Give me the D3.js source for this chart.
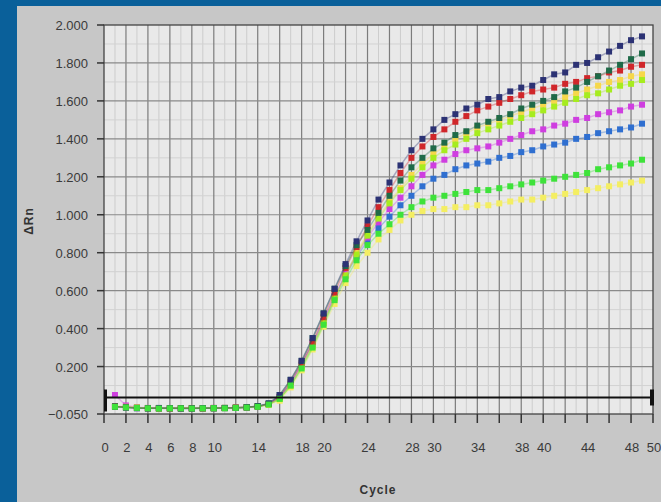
<!DOCTYPE html>
<html lang="en">
<head>
    <meta charset="UTF-8">
    <title>Amplification plot</title>
    <script src="https://d3js.org/d3.v7.min.js"></script>
    <style>
        body { margin: 0; background: #0a609a; }
        svg { display: block; }
        .tick-label { font-family: "Liberation Sans", Arial, sans-serif; font-size: 13px; fill: #3a3a3a; }
        .axis-title { font-family: "Liberation Sans", Arial, sans-serif; font-size: 12px; font-weight: bold; fill: #333; letter-spacing: 1px; }
    </style>
</head>
<body>
<svg id="chart" width="661" height="502"></svg>
<script>
    // cycles 1..49
    const cycles = d3.range(1, 50);
    const xTickLabels = [0, 2, 4, 6, 8, 10, 14, 18, 20, 24, 28, 30, 34, 38, 40, 44, 48, 50];
    const yTickLabels = [2.0, 1.8, 1.6, 1.4, 1.2, 1.0, 0.8, 0.6, 0.4, 0.2, -0.05];
    const threshold = 0.037;

    const navy = [
        -0.01, -0.015, -0.02, -0.02, -0.018, -0.02, -0.021, -0.02, -0.019, -0.02, -0.018, -0.017, -0.015, -0.01, 0.005,
        0.05, 0.13, 0.23, 0.35, 0.48, 0.61, 0.74, 0.86,
        0.97, 1.08, 1.17, 1.26, 1.34, 1.40, 1.45, 1.50, 1.53, 1.56, 1.58,
        1.61, 1.62, 1.65, 1.67, 1.68, 1.71, 1.74, 1.75, 1.79, 1.80, 1.83, 1.86, 1.89, 1.92, 1.94];
    const darkGreen = [
        -0.012, -0.016, -0.018, -0.02, -0.02, -0.019, -0.02, -0.021, -0.02, -0.019, -0.018, -0.018, -0.014, -0.008, 0.006,
        0.05, 0.13, 0.23, 0.35, 0.48, 0.61, 0.73, 0.84,
        0.92, 1.01, 1.10, 1.18, 1.25, 1.30, 1.35, 1.38, 1.42, 1.44, 1.47,
        1.49, 1.51, 1.53, 1.56, 1.58, 1.60, 1.62, 1.65, 1.67, 1.70, 1.73, 1.76, 1.79, 1.82, 1.85];
    const red = [
        -0.01, -0.014, -0.018, -0.02, -0.02, -0.02, -0.019, -0.02, -0.02, -0.018, -0.019, -0.017, -0.015, -0.01, 0.003,
        0.04, 0.12, 0.22, 0.33, 0.46, 0.59, 0.72, 0.83,
        0.94, 1.04, 1.13, 1.22, 1.30, 1.36, 1.41, 1.45, 1.49, 1.52, 1.55,
        1.57, 1.59, 1.61, 1.63, 1.65, 1.66, 1.67, 1.69, 1.70, 1.72, 1.73, 1.75, 1.76, 1.78, 1.79];
    const gold = [
        -0.008, -0.012, -0.016, -0.018, -0.02, -0.02, -0.02, -0.018, -0.02, -0.019, -0.018, -0.016, -0.014, -0.01, 0.0,
        0.03, 0.10, 0.20, 0.31, 0.43, 0.56, 0.68, 0.80,
        0.90, 0.99, 1.07, 1.14, 1.21, 1.27, 1.32, 1.36, 1.40, 1.43, 1.46,
        1.48, 1.50, 1.52, 1.54, 1.56, 1.58, 1.60, 1.62, 1.64, 1.66, 1.68, 1.70, 1.71, 1.73, 1.74];
    const lime = [
        -0.01, -0.013, -0.017, -0.019, -0.02, -0.021, -0.02, -0.02, -0.019, -0.02, -0.018, -0.017, -0.015, -0.011, 0.0,
        0.03, 0.10, 0.20, 0.31, 0.43, 0.56, 0.68, 0.79,
        0.89, 0.98, 1.06, 1.13, 1.19, 1.25, 1.30, 1.34, 1.37, 1.40, 1.43,
        1.45, 1.47, 1.49, 1.51, 1.53, 1.55, 1.57, 1.59, 1.61, 1.63, 1.64, 1.66, 1.68, 1.69, 1.71];
    const magenta = [
        0.05, -0.005, -0.015, -0.018, -0.02, -0.02, -0.019, -0.02, -0.02, -0.018, -0.018, -0.016, -0.014, -0.01, 0.002,
        0.04, 0.11, 0.21, 0.32, 0.44, 0.57, 0.69, 0.79,
        0.88, 0.96, 1.03, 1.09, 1.15, 1.21, 1.26, 1.29, 1.32, 1.34, 1.35,
        1.36, 1.38, 1.40, 1.42, 1.44, 1.45, 1.47, 1.48, 1.50, 1.51, 1.53, 1.54, 1.55, 1.57, 1.58];
    const blue = [
        -0.01, -0.014, -0.017, -0.02, -0.02, -0.02, -0.021, -0.02, -0.019, -0.02, -0.019, -0.017, -0.015, -0.01, 0.003,
        0.04, 0.11, 0.21, 0.32, 0.44, 0.57, 0.68, 0.78,
        0.86, 0.93, 0.99, 1.05, 1.10, 1.15, 1.19, 1.21, 1.24, 1.26, 1.27,
        1.28, 1.30, 1.31, 1.33, 1.34, 1.36, 1.37, 1.38, 1.40, 1.41, 1.43, 1.44, 1.45, 1.46, 1.48];
    const green = [
        -0.012, -0.015, -0.018, -0.02, -0.021, -0.02, -0.02, -0.021, -0.02, -0.019, -0.02, -0.018, -0.016, -0.012, 0.0,
        0.03, 0.10, 0.19, 0.30, 0.42, 0.55, 0.66, 0.76,
        0.84, 0.90, 0.95, 1.00, 1.04, 1.07, 1.09, 1.10, 1.11, 1.12, 1.13,
        1.13, 1.14, 1.15, 1.16, 1.17, 1.18, 1.19, 1.20, 1.21, 1.22, 1.24, 1.25, 1.26, 1.27, 1.29];
    const yellow = [
        -0.01, -0.014, -0.017, -0.019, -0.02, -0.02, -0.02, -0.019, -0.02, -0.02, -0.018, -0.017, -0.015, -0.011, -0.002,
        0.02, 0.09, 0.18, 0.29, 0.41, 0.53, 0.64, 0.73,
        0.80, 0.87, 0.92, 0.97, 1.00, 1.02, 1.03, 1.03, 1.04, 1.04, 1.05,
        1.05, 1.06, 1.07, 1.08, 1.08, 1.09, 1.10, 1.11, 1.12, 1.13, 1.14, 1.15, 1.16, 1.17, 1.18];

    // drawing order: first is underneath
    const series = [
        { name: "yellow", values: yellow, color: "#f4ee62" },
        { name: "blue", values: blue, color: "#2f6fd0" },
        { name: "magenta", values: magenta, color: "#cf3ee0" },
        { name: "gold", values: gold, color: "#f6d84a" },
        { name: "lime", values: lime, color: "#a6ec1e" },
        { name: "red", values: red, color: "#d0262a" },
        { name: "darkGreen", values: darkGreen, color: "#1f6a48" },
        { name: "navy", values: navy, color: "#2c3274" },
        { name: "green", values: green, color: "#3ee23a" }
    ];

    const svg = d3.select("#chart");
    const W = +svg.attr("width"), H = +svg.attr("height");

    // blue frame + grey panel
    svg.append("rect").attr("width", W).attr("height", H).attr("fill", "#0a609a");
    svg.append("rect").attr("x", 17).attr("y", 6).attr("width", W - 17).attr("height", H - 6).attr("fill", "#c7c7c7");

    const x = d3.scaleLinear().domain([0, 50]).range([104, 653]);
    const y = d3.scaleLinear().domain([-0.05, 2.0]).range([414, 25]);

    const plot = svg.append("g");
    plot.append("rect")
        .attr("x", x(0)).attr("y", y(2.0))
        .attr("width", x(50) - x(0)).attr("height", y(-0.05) - y(2.0))
        .attr("fill", "#e9e9e9");

    // minor grid
    plot.selectAll(".vminor").data(d3.range(1, 50, 2)).enter().append("line")
        .attr("x1", d => x(d)).attr("x2", d => x(d))
        .attr("y1", y(2.0)).attr("y2", y(-0.05))
        .attr("stroke", "#cdcdcd").attr("stroke-width", 1);
    plot.selectAll(".hminor").data(d3.range(0.1, 2.0, 0.2)).enter().append("line")
        .attr("x1", x(0)).attr("x2", x(50))
        .attr("y1", d => y(d)).attr("y2", d => y(d))
        .attr("stroke", "#d2d2d2").attr("stroke-width", 1);

    // major grid
    plot.selectAll(".vmajor").data(d3.range(2, 50, 2)).enter().append("line")
        .attr("x1", d => x(d)).attr("x2", d => x(d))
        .attr("y1", y(2.0)).attr("y2", y(-0.05))
        .attr("stroke", "#7c7c7c").attr("stroke-width", 1.2);
    plot.selectAll(".hmajor").data(yTickLabels.filter(v => v > 0 && v < 2)).enter().append("line")
        .attr("x1", x(0)).attr("x2", x(50))
        .attr("y1", d => y(d)).attr("y2", d => y(d))
        .attr("stroke", "#8a8a8a").attr("stroke-width", 1.2);

    // frame
    plot.append("rect")
        .attr("x", x(0)).attr("y", y(2.0))
        .attr("width", x(50) - x(0)).attr("height", y(-0.05) - y(2.0))
        .attr("fill", "none").attr("stroke", "#444").attr("stroke-width", 1.3);

    // y ticks + labels
    svg.selectAll(".ytick").data(yTickLabels).enter().append("line")
        .attr("x1", x(0) - 7).attr("x2", x(0))
        .attr("y1", d => y(d)).attr("y2", d => y(d))
        .attr("stroke", "#333").attr("stroke-width", 1.5);
    svg.selectAll(".ylab").data(yTickLabels).enter().append("text")
        .attr("class", "tick-label")
        .attr("x", 88).attr("y", d => y(d) + 5)
        .attr("text-anchor", "end")
        .text(d => d3.format(".3f")(d));

    // x ticks + labels
    svg.selectAll(".xtick").data(d3.range(0, 51, 2)).enter().append("line")
        .attr("x1", d => x(d)).attr("x2", d => x(d))
        .attr("y1", y(-0.05)).attr("y2", y(-0.05) + 9)
        .attr("stroke", "#333").attr("stroke-width", 1.5);
    svg.selectAll(".xlab").data(xTickLabels).enter().append("text")
        .attr("class", "tick-label")
        .attr("x", d => x(d) + 1).attr("y", 452)
        .attr("text-anchor", "middle")
        .text(d => d);

    svg.append("text").attr("class", "axis-title")
        .attr("x", 378).attr("y", 494).attr("text-anchor", "middle")
        .text("Cycle");
    svg.append("text").attr("class", "axis-title")
        .attr("transform", "translate(33,221) rotate(-90)")
        .attr("text-anchor", "middle")
        .text("ΔRn");

    // series
    const line = d3.line().x((d, i) => x(cycles[i])).y(d => y(d));
    const g = svg.append("g");
    series.forEach(s => {
        g.append("path").datum(s.values)
            .attr("d", line)
            .attr("fill", "none").attr("stroke", s.color)
            .attr("stroke-width", 1.5).attr("stroke-opacity", 0.35);
        g.selectAll(".m-" + s.name).data(s.values).enter().append("rect")
            .attr("x", (d, i) => x(cycles[i]) - 3)
            .attr("y", d => y(d) - 3)
            .attr("width", 6).attr("height", 6)
            .attr("fill", s.color);
    });

    // threshold line with handles
    svg.append("line")
        .attr("x1", x(0)).attr("x2", x(50))
        .attr("y1", y(threshold)).attr("y2", y(threshold))
        .attr("stroke", "#111").attr("stroke-width", 2);
    svg.append("rect").attr("x", x(0)).attr("y", y(threshold) - 8).attr("width", 3).attr("height", 22).attr("fill", "#111");
    svg.append("rect").attr("x", x(50) - 3).attr("y", y(threshold) - 8).attr("width", 4).attr("height", 16).attr("fill", "#111");
</script>
</body>
</html>
